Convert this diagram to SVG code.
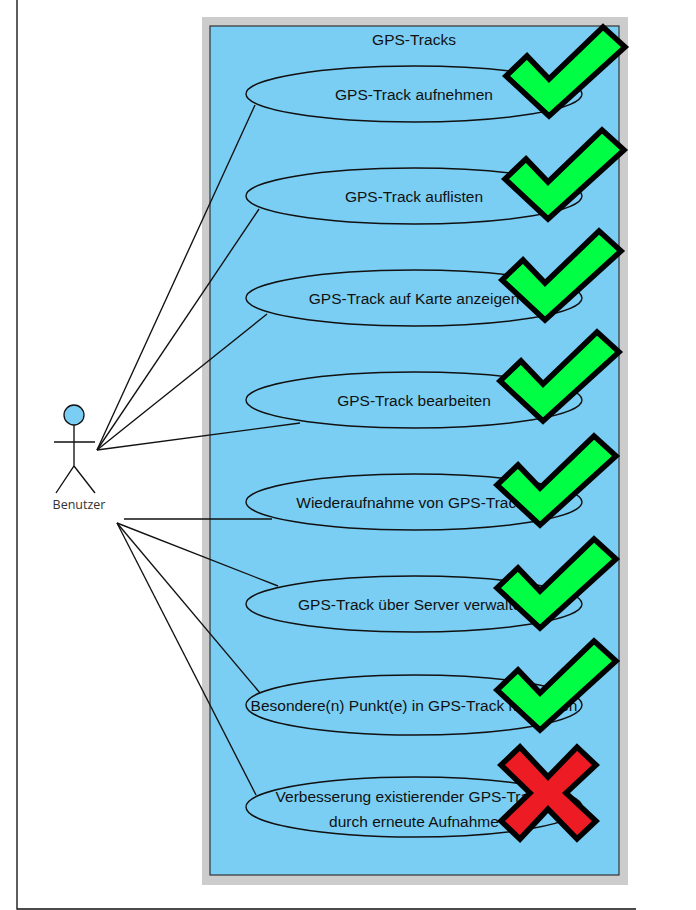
<svg xmlns="http://www.w3.org/2000/svg" width="696" height="910" viewBox="0 0 696 910">
<defs>
<style>
.uc{fill:#7acef4;stroke:#111;stroke-width:1.4}
.t{font-family:"Liberation Sans",Arial,sans-serif;font-size:15.5px;fill:#111;text-anchor:middle}
.ln{stroke:#111;stroke-width:1.35;fill:none}
.ok{fill:#00ff44;stroke:#000;stroke-width:5.5;stroke-linejoin:miter}
.no{fill:#ed1c24;stroke:#000;stroke-width:5.5;stroke-linejoin:miter}
</style>
<polygon id="check" class="ok" points="0,0 21,-20 43,3 97,-49 119,-29 43,40"/>
</defs>
<rect x="0" y="0" width="696" height="910" fill="#fff"/>
<path d="M17,0 V909 H636" class="ln" stroke-width="1.5"/>
<g id="system">
<rect x="202" y="17" width="426" height="868" fill="#cccccc"/>
<rect x="210" y="26" width="409" height="849" fill="#7acef4" stroke="#333" stroke-width="1.2"/>
<text class="t" x="414" y="45">GPS-Tracks</text>
</g>
<g id="actor">
<circle cx="74" cy="415" r="10" fill="#7acef4" stroke="#111" stroke-width="1.3"/>
<path d="M74,425 V466 M54,442 H95 M56,493 L74,466 L95,493" class="ln"/>
<text x="79" y="509" font-family="Open Sans,sans-serif" font-size="12.5" fill="#333" text-anchor="middle">Benutzer</text>
</g>
<g id="connectors">
<line class="ln" x1="97" y1="450" x2="255" y2="105"/>
<line class="ln" x1="97" y1="450" x2="259" y2="209"/>
<line class="ln" x1="97" y1="450" x2="267" y2="314"/>
<line class="ln" x1="97" y1="450" x2="300" y2="423"/>
<line class="ln" x1="124" y1="519" x2="272" y2="519"/>
<line class="ln" x1="117" y1="523" x2="278" y2="586"/>
<line class="ln" x1="117" y1="523" x2="260" y2="693"/>
<line class="ln" x1="117" y1="523" x2="256" y2="795"/>
</g>
<g id="uc1"><ellipse class="uc" cx="414" cy="94" rx="168" ry="28"/><text class="t" x="414" y="100">GPS-Track aufnehmen</text></g>
<g id="uc2"><ellipse class="uc" cx="414" cy="196" rx="168" ry="28"/><text class="t" x="414" y="202">GPS-Track auflisten</text></g>
<g id="uc3"><ellipse class="uc" cx="414" cy="298" rx="168" ry="28"/><text class="t" x="414" y="304">GPS-Track auf Karte anzeigen</text></g>
<g id="uc4"><ellipse class="uc" cx="414" cy="400" rx="168" ry="28"/><text class="t" x="414" y="406">GPS-Track bearbeiten</text></g>
<g id="uc5"><ellipse class="uc" cx="414" cy="502" rx="168" ry="28"/><text class="t" x="414" y="508">Wiederaufnahme von GPS-Tracks</text></g>
<g id="uc6"><ellipse class="uc" cx="414" cy="604" rx="168" ry="28"/><text class="t" x="414" y="610">GPS-Track über Server verwalten</text></g>
<g id="uc7"><ellipse class="uc" cx="414" cy="705" rx="168" ry="30"/><text class="t" x="414" y="711">Besondere(n) Punkt(e) in GPS-Track markieren</text></g>
<g id="uc8"><ellipse class="uc" cx="414" cy="807" rx="168" ry="30"/><text class="t" x="414" y="802">Verbesserung existierender GPS-Tracks</text><text class="t" x="414" y="827">durch erneute Aufnahme</text></g>
<g id="marks">
<use href="#check" x="506" y="76"/>
<use href="#check" x="505" y="179"/>
<use href="#check" x="502" y="280"/>
<use href="#check" x="500" y="381"/>
<use href="#check" x="497" y="485"/>
<use href="#check" x="497" y="588"/>
<use href="#check" x="497" y="690"/>
<polygon class="no" points="501,765 520,747 548,777 577,747 596,765 566,793 596,821 577,839 548,809 520,839 501,821 530,793"/>
</g>
</svg>
